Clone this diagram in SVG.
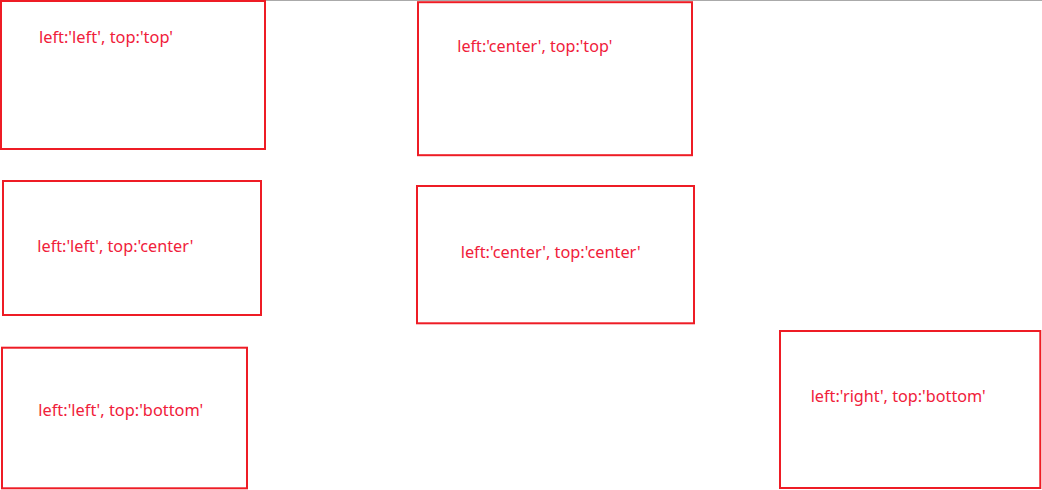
<svg xmlns="http://www.w3.org/2000/svg" width="1042" height="490" viewBox="0 0 1042 490">
<style>
.box{fill:none;stroke:#ee1c25;stroke-width:2}
.lbl{font-family:"Noto Sans","Liberation Sans",sans-serif;font-size:17px;fill:#f0203a}
</style>
<rect width="1042" height="490" fill="#ffffff"/>
<line x1="0" y1="0.5" x2="1042" y2="0.5" stroke="#aaaaaa" stroke-width="1"/>
<g id="connectors"></g>
<g id="node-left-top">
<rect class="box" x="1" y="1" width="264" height="148"/>
<text class="lbl" x="39" y="43" textLength="134" lengthAdjust="spacingAndGlyphs">left:'left', top:'top'</text>
</g>
<g id="node-center-top">
<rect class="box" x="418" y="2.2" width="274" height="153"/>
<text class="lbl" x="457.3" y="52.3" textLength="155" lengthAdjust="spacingAndGlyphs">left:'center', top:'top'</text>
</g>
<g id="node-left-center">
<rect class="box" x="3" y="181" width="258" height="134"/>
<text class="lbl" x="37.3" y="251.7" textLength="156" lengthAdjust="spacingAndGlyphs">left:'left', top:'center'</text>
</g>
<g id="node-center-center">
<rect class="box" x="417" y="186" width="277" height="137.3"/>
<text class="lbl" x="460.7" y="257.7" textLength="180" lengthAdjust="spacingAndGlyphs">left:'center', top:'center'</text>
</g>
<g id="node-left-bottom">
<rect class="box" x="2" y="347.7" width="245" height="140.6"/>
<text class="lbl" x="38.3" y="416" textLength="165" lengthAdjust="spacingAndGlyphs">left:'left', top:'bottom'</text>
</g>
<g id="node-right-bottom">
<rect class="box" x="780" y="331" width="260.3" height="157"/>
<text class="lbl" x="810.7" y="401.7" textLength="175" lengthAdjust="spacingAndGlyphs">left:'right', top:'bottom'</text>
</g>
</svg>
